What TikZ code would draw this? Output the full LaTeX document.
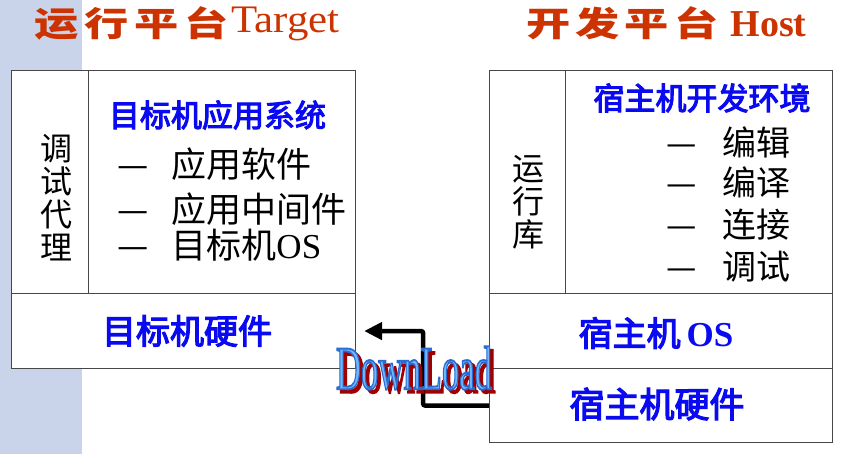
\documentclass[tikz,border=0pt]{standalone}
\usepackage{fontspec}
\setmainfont{Liberation Serif}
\newfontfamily\cjk{Noto Sans CJK SC}
\newfontfamily\cjkb[FakeBold=3.5]{Noto Sans CJK SC}
\newfontfamily\dlfont[FakeBold=3]{Liberation Serif}
\usetikzlibrary{arrows.meta,calc}
\definecolor{titlered}{HTML}{CC3300}
\definecolor{txtblue}{HTML}{0A0AF0}
\definecolor{stripcol}{HTML}{C9D3E9}
\definecolor{boxline}{HTML}{474747}
\definecolor{dlfill}{HTML}{70B8FF}
\definecolor{dlshadow}{HTML}{A00000}
\newcommand{\dltext}{\dlfont\fontsize{62}{62}\selectfont\scalebox{0.56}[1]{DownLoad}}
\begin{document}
\begin{tikzpicture}[x=1pt,y=-1pt,
  cell/.style={draw=boxline, line width=1.1pt, fill=white, inner sep=0pt, anchor=north west},
  bluelbl/.style={inner sep=0pt, text=txtblue},
  blacklbl/.style={inner sep=0pt, text=black, anchor=west, font=\cjk\fontsize{35}{40}\selectfont},
  vertlbl/.style={inner sep=0pt, text=black, align=center, font=\cjk\fontsize{32}{33}\selectfont},
  titlelbl/.style={inner sep=0pt, text=titlered, anchor=base west},
  dlarrow/.style={line width=4.5pt, rounded corners=2pt, -{Triangle[length=18pt,width=17pt]}},
  dl/.style={inner sep=0pt}]
\useasboundingbox (0,0) rectangle (847,454);
\fill[white] (0,0) rectangle (847,454);
\fill[stripcol] (0,0) rectangle (82,454);

% titles
\node[titlelbl] (tleft) at (34,37) {\scalebox{1.3}[1]{\cjk\bfseries\fontsize{34}{40}\selectfont 运\kern4.5pt 行\kern4.5pt 平\kern4.5pt 台}\kern3pt\raisebox{4pt}{\scalebox{1.1}[1]{\fontsize{39}{44}\selectfont Target}}};
\node[titlelbl] (tright) at (526,37) {\scalebox{1.3}[1]{\cjk\bfseries\fontsize{34}{40}\selectfont 开\kern4pt 发\kern4pt 平\kern4pt 台}\kern12pt{\fontsize{38}{44}\selectfont\bfseries Host}};

% target box
\node[cell, minimum width=77pt, minimum height=223pt] (agent) at (11,70) {};
\node[cell, minimum width=267pt, minimum height=223pt] (app) at (88,70) {};
\node[cell, minimum width=344pt, minimum height=75pt] (tgthw) at (11,293) {};

% host box
\node[cell, minimum width=76pt, minimum height=223pt] (rtlib) at (489,70) {};
\node[cell, minimum width=267pt, minimum height=223pt] (env) at (565,70) {};
\node[cell, minimum width=343pt, minimum height=75pt] (hostos) at (489,293) {};
\node[cell, minimum width=343pt, minimum height=74pt] (hosthw) at (489,368) {};

% target texts
\node[vertlbl] (agenttxt) at (56,198) {调\\试\\代\\理};
\node[bluelbl, font=\cjkb\fontsize{31}{36}\selectfont] (apptitle) at (217.5,115) {目标机应用系统};
\node[blacklbl] (app1) at (117,164) {—\hspace{23pt}应用软件};
\node[blacklbl] (app2) at (117,209) {—\hspace{23pt}应用中间件};
\node[blacklbl] (app3) at (117,245) {—\hspace{23pt}目标机{\rmfamily OS}};
\node[bluelbl, font=\cjkb\fontsize{34}{40}\selectfont] (tgthwtxt) at (187,331) {目标机硬件};

% host texts
\node[vertlbl] (rtlibtxt) at (528,202) {运\\行\\库};
\node[bluelbl, font=\cjkb\fontsize{31}{36}\selectfont] (envtitle) at (702,98) {宿主机开发环境};
\node[blacklbl, font=\cjk\fontsize{34}{40}\selectfont] (env1) at (666,142) {—\hspace{26pt}编辑};
\node[blacklbl, font=\cjk\fontsize{34}{40}\selectfont] (env2) at (666,183) {—\hspace{26pt}编译};
\node[blacklbl, font=\cjk\fontsize{34}{40}\selectfont] (env3) at (666,225) {—\hspace{26pt}连接};
\node[blacklbl, font=\cjk\fontsize{34}{40}\selectfont] (env4) at (666,267) {—\hspace{26pt}调试};
\node[bluelbl, font=\cjkb\fontsize{34}{40}\selectfont] (hostostxt) at (656,333) {宿主机\kern6pt{\rmfamily\bfseries\fontsize{35}{40}\selectfont OS}};
\node[bluelbl, font=\cjkb\fontsize{35}{40}\selectfont] (hosthwtxt) at (657,404) {宿主机硬件};

% download arrow
\draw[dlarrow] (hosthw.west) -| ([xshift=67pt]tgthw.east) -- ([xshift=8pt]tgthw.east);

% DownLoad label: dark red shadow, then light blue text with a darker blue outline
\node[dl, text=dlshadow] (dlsh) at (417.5,371.5) {\dltext};
\node[dl, text=dlfill] (dltxt) at (414,368) {\special{pdf:literal direct 0.16 0.42 0.82 RG}\dltext};
\end{tikzpicture}
\end{document}
